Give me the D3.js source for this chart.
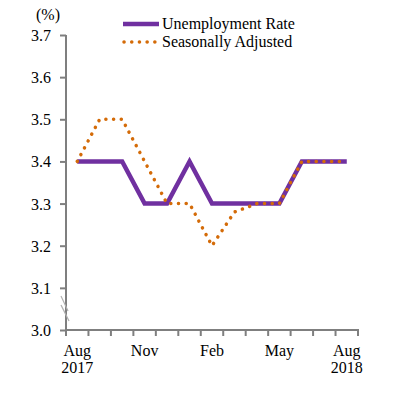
<!DOCTYPE html>
<html>
<head>
<meta charset="utf-8">
<script src="https://cdn.jsdelivr.net/npm/d3@7"></script>
<style>
  body { margin: 0; background: #fff; }
  svg text { font-family: "Liberation Serif", "Times New Roman", serif; fill: #000; }
</style>
</head>
<body>
<div id="chart"></div>
<script>
// data
const months = ["Aug 2017", "Sep", "Oct", "Nov", "Dec", "Jan", "Feb", "Mar", "Apr", "May", "Jun", "Jul", "Aug 2018"];
const unemploymentRate = [3.4, 3.4, 3.4, 3.3, 3.3, 3.4, 3.3, 3.3, 3.3, 3.3, 3.4, 3.4, 3.4];
const seasonallyAdjusted = [3.4, 3.5, 3.5, 3.4, 3.3, 3.3, 3.2, 3.28, 3.3, 3.3, 3.4, 3.4, 3.4];
const yTicks = [3.0, 3.1, 3.2, 3.3, 3.4, 3.5, 3.6, 3.7];
const xLabelMonths = ["Aug 2017", "Nov", "Feb", "May", "Aug 2018"];
const seriesNames = ["Unemployment Rate", "Seasonally Adjusted"];

const width = 397, height = 397;
const plotLeft = 66, plotRight = 358, plotTop = 35, plotBottom = 330;

const svg = d3.select("#chart").append("svg")
  .attr("width", width)
  .attr("height", height);

const x = d3.scaleBand()
  .domain(months)
  .range([plotLeft, plotRight]);

const y = d3.scaleLinear()
  .domain([3.0, 3.7])
  .range([plotBottom, plotTop]);

const cx = m => x(m) + x.bandwidth() / 2;

// y axis
const yAxis = svg.append("g")
  .attr("transform", "translate(" + plotLeft + ",0)")
  .call(d3.axisLeft(y).tickValues(yTicks).tickFormat(d3.format(".1f")).tickSize(6).tickPadding(9));
yAxis.select(".domain").attr("stroke", "#7f7f7f").attr("stroke-width", 2)
  .attr("d", "M0," + plotTop + "V" + plotBottom);
yAxis.selectAll(".tick line").attr("stroke", "#7f7f7f").attr("stroke-width", 2);
yAxis.selectAll(".tick text").style("font-size", "16px").attr("dy", "0.34em");

// x axis, ticks on the band edges
const edges = months.map(m => x(m)).concat([plotRight]);
const xAxis = svg.append("g")
  .attr("transform", "translate(0," + plotBottom + ")");
xAxis.append("line")
  .attr("x1", plotLeft - 1).attr("x2", plotRight + 1)
  .attr("stroke", "#7f7f7f").attr("stroke-width", 2);
xAxis.selectAll(".edge")
  .data(edges)
  .enter()
  .append("line")
  .attr("x1", d => d).attr("x2", d => d)
  .attr("y1", 0).attr("y2", 6)
  .attr("stroke", "#7f7f7f").attr("stroke-width", 2);

const xl = xAxis.selectAll(".xlab")
  .data(xLabelMonths)
  .enter()
  .append("text")
  .attr("text-anchor", "middle")
  .attr("x", d => cx(d))
  .attr("y", 26)
  .style("font-size", "16px");
xl.append("tspan").attr("x", d => cx(d)).text(d => d.split(" ")[0]);
xl.filter(d => d.includes(" "))
  .append("tspan").attr("x", d => cx(d)).attr("dy", 17).text(d => d.split(" ")[1]);

// axis break marks
const brk = svg.append("g").attr("stroke", "#b0b0b0").attr("stroke-width", 1.2);
brk.append("line").attr("x1", 61).attr("y1", 296).attr("x2", 68).attr("y2", 311);
brk.append("line").attr("x1", 61).attr("y1", 305).attr("x2", 69).attr("y2", 321);

// unit
svg.append("text").attr("x", 36).attr("y", 20).style("font-size", "16px").text("(%)");

// lines
const line = d3.line()
  .x((d, i) => cx(months[i]))
  .y(d => y(d));

svg.append("path")
  .datum(unemploymentRate)
  .attr("fill", "none")
  .attr("stroke", "#7030a0")
  .attr("stroke-width", 4.5)
  .attr("d", line);

svg.append("path")
  .datum(seasonallyAdjusted)
  .attr("fill", "none")
  .attr("stroke", "#d46b08")
  .attr("stroke-width", 3.5)
  .attr("stroke-linecap", "round")
  .attr("stroke-dasharray", "0.1 7.6")
  .attr("d", line);

// legend
const legend = svg.append("g");
legend.append("line")
  .attr("x1", 123).attr("x2", 159).attr("y1", 24).attr("y2", 24)
  .attr("stroke", "#7030a0").attr("stroke-width", 4.5);
legend.append("line")
  .attr("x1", 124).attr("x2", 159).attr("y1", 42).attr("y2", 42)
  .attr("stroke", "#d46b08").attr("stroke-width", 3.5)
  .attr("stroke-linecap", "round").attr("stroke-dasharray", "0.1 7.6");
legend.selectAll(".lt")
  .data(seriesNames)
  .enter()
  .append("text")
  .attr("x", 162)
  .attr("y", (d, i) => 29 + i * 18)
  .style("font-size", "16px")
  .text(d => d);
</script>
</body>
</html>
